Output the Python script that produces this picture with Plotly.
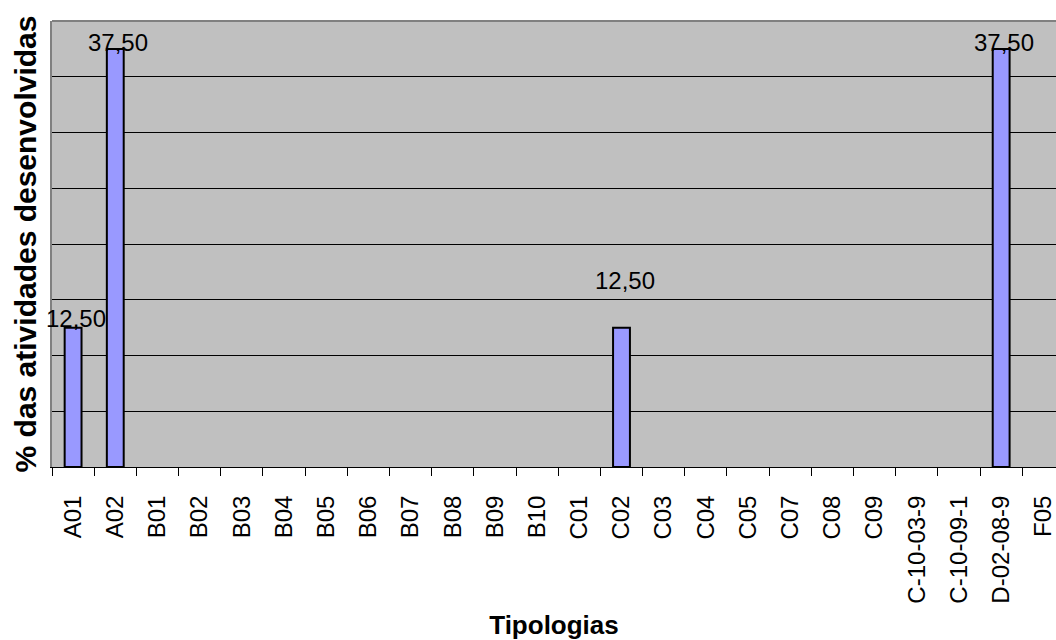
import plotly.graph_objects as go

categories = ["A01", "A02", "B01", "B02", "B03", "B04", "B05", "B06", "B07", "B08",
              "B09", "B10", "C01", "C02", "C03", "C04", "C05", "C07", "C08", "C09",
              "C-10-03-9", "C-10-09-1", "D-02-08-9", "F05"]
values = [12.5, 37.5, 0, 0, 0, 0, 0, 0, 0, 0,
          0, 0, 0, 12.5, 0, 0, 0, 0, 0, 0,
          0, 0, 37.5, 0]
# vertical offsets of data labels (px), as placed in the original
label_shift = {"A01": 9, "A02": 6, "C02": 47, "D-02-08-9": 6}

idx = list(range(len(categories)))
plot_vals = [v if v != 0 else None for v in values]

FONT = "Liberation Sans, Arial"

fig = go.Figure()
fig.add_trace(go.Bar(
    x=idx, y=plot_vals, width=0.4,
    marker=dict(color="#9999FF", line=dict(color="black", width=2)),
    hoverinfo="skip",
))

for i, (c, v) in enumerate(zip(categories, values)):
    if v:
        fig.add_annotation(
            x=i, y=v, text=f"{v:.2f}".replace(".", ","), showarrow=False,
            xanchor="center", yanchor="middle", yshift=label_shift.get(c, 0),
            xshift=3, borderpad=0,
            font=dict(family=FONT, size=24, color="black"),
        )

fig.update_layout(
    width=1056, height=640,
    margin=dict(l=52, r=0, t=21, b=173),
    paper_bgcolor="white", plot_bgcolor="#C0C0C0",
    showlegend=False,
    font=dict(family=FONT, color="black"),
    xaxis=dict(
        range=[-0.5, 23.3], tickmode="array", tickvals=idx, ticktext=categories,
        tickangle=-90, tickfont=dict(size=24), ticklabelstandoff=18,
        ticklabeloverflow="allow", automargin=False,
        showline=True, linecolor="black", linewidth=1,
        ticks="", showgrid=False, zeroline=False,
        title=dict(text="<b>Tipologias</b>", font=dict(size=26), standoff=13),
        minor=dict(tickmode="array", tickvals=[i - 0.5 for i in idx] + [23.5],
                   ticks="outside", ticklen=8, tickcolor="black", tickwidth=1),
    ),
    yaxis=dict(
        range=[0, 40], dtick=5, showticklabels=False, ticks="",
        showgrid=True, gridcolor="black", gridwidth=1,
        showline=True, linecolor="#808080", linewidth=2, zeroline=False,
        title=dict(text="<b>% das atividades desenvolvidas</b>", font=dict(size=30), standoff=5),
    ),
)
fig.add_shape(type="line", xref="paper", yref="paper", x0=0, x1=1, y0=1, y1=1,
              line=dict(color="#808080", width=2))

fig.write_html("out.html")
